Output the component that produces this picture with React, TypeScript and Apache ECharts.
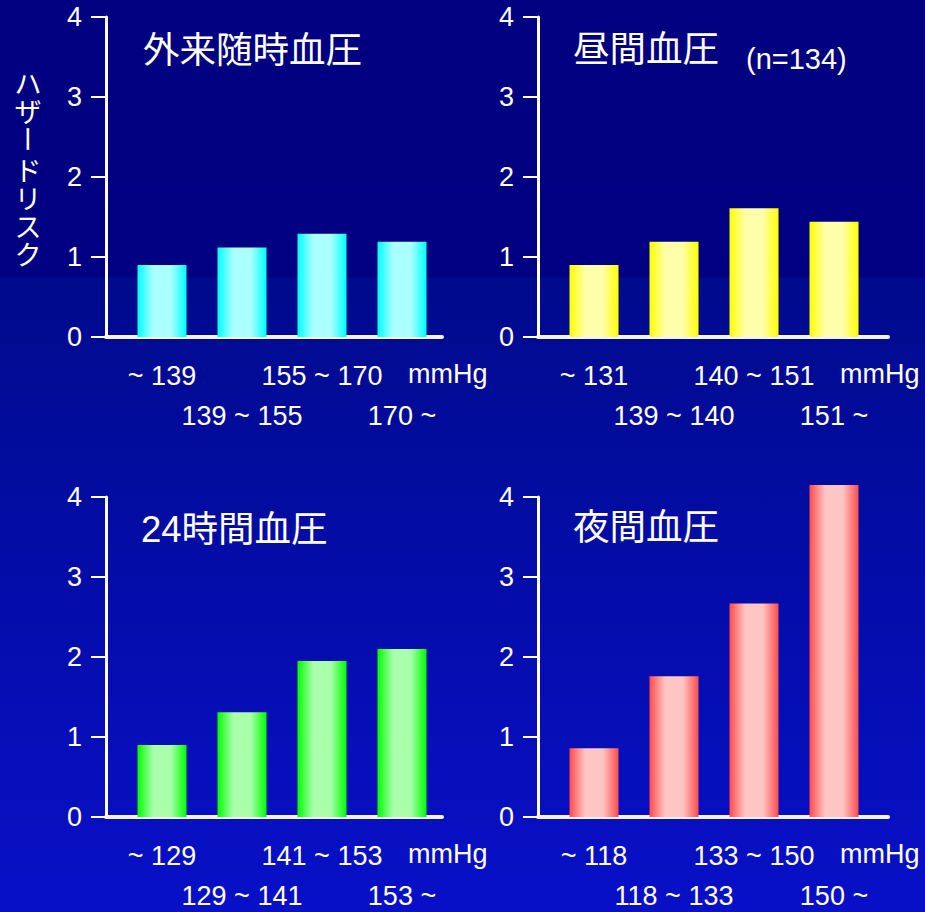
import React, { useEffect, useRef } from 'react';
import * as echarts from 'echarts';

// ---- data ----
const yTicks = [0, 1, 2, 3, 4];
const yAxisTitleTop = 'ハ\nザ';
const yAxisTitleDash = 'ー';
const yAxisTitleBottom = 'ド\nリ\nス\nク';

const clinicTitle = '外来随時血圧';
const clinicLabels = ['~ 139', '139 ~ 155', '155 ~ 170', '170 ~'];
const clinicValues = [0.9, 1.12, 1.29, 1.19];

const dayTitle = '昼間血圧';
const dayNote = '(n=134)';
const dayLabels = ['~ 131', '139 ~ 140', '140 ~ 151', '151 ~'];
const dayValues = [0.9, 1.19, 1.61, 1.44];

const allDayTitle = '24時間血圧';
const allDayLabels = ['~ 129', '129 ~ 141', '141 ~ 153', '153 ~'];
const allDayValues = [0.9, 1.31, 1.95, 2.1];

const nightTitle = '夜間血圧';
const nightLabels = ['~ 118', '118 ~ 133', '133 ~ 150', '150 ~'];
const nightValues = [0.86, 1.76, 2.67, 4.15];

const unitLabel = 'mmHg';

const LATIN = '"Liberation Sans", Arial, sans-serif';
const CJK = '"Liberation Sans", "Noto Sans CJK JP", sans-serif';

function grad(edge: string, mid: string) {
  return {
    type: 'linear', x: 0, y: 0, x2: 1, y2: 0,
    colorStops: [
      { offset: 0, color: edge },
      { offset: 0.32, color: mid },
      { offset: 0.68, color: mid },
      { offset: 1, color: edge },
    ],
  };
}

export default function App() {
  const ref = useRef<HTMLDivElement>(null);
  useEffect(() => {
    const chart = echarts.init(ref.current!, null, { renderer: 'svg' });
    const panels = [
      { left: 106, top: 17, width: 336, xMax: 3.5, labels: clinicLabels, values: clinicValues, color: grad('#00ffff', '#aaffff') },
      { left: 538, top: 17, width: 350, xMax: 3.675, labels: dayLabels, values: dayValues, color: grad('#ffff00', '#ffffaa') },
      { left: 106, top: 497, width: 336, xMax: 3.5, labels: allDayLabels, values: allDayValues, color: grad('#00ff00', '#aaffaa') },
      { left: 538, top: 497, width: 350, xMax: 3.675, labels: nightLabels, values: nightValues, color: grad('#ff4c4c', '#ffc4c4') },
    ];
    const grid = panels.map((p) => ({
      left: p.left, top: p.top, width: p.width, height: 320,
      containLabel: false, outerBoundsMode: 'none',
    }));
    const xAxis: any[] = [];
    panels.forEach((p, gi) => {
      [0, 1].forEach((row) => {
        xAxis.push({
          type: 'value',
          gridIndex: gi,
          position: 'bottom',
          offset: 0,
          min: -0.7,
          max: p.xMax,
          splitLine: { show: false },
          axisTick: { show: false },
          axisLine: { show: row === 0, onZero: false, lineStyle: { color: '#f4f4ff', width: 4 } },
          axisLabel: {
            customValues: row === 0 ? [0, 2] : [1, 3],
            formatter: (v: number) => p.labels[Math.round(v)],
            color: '#ffffff',
            fontSize: 27,
            fontFamily: LATIN,
            margin: row === 0 ? 25 : 65,
          },
        });
      });
    });
    const yAxis = panels.map((p, gi) => ({
      type: 'value',
      gridIndex: gi,
      min: yTicks[0],
      max: yTicks[yTicks.length - 1],
      interval: 1,
      splitLine: { show: false },
      axisLine: { show: true, onZero: false, lineStyle: { color: '#ffffff', width: 3 } },
      axisTick: { show: true, length: 15, lineStyle: { color: '#ffffff', width: 2 } },
      axisLabel: { color: '#ffffff', fontSize: 27, fontFamily: LATIN, margin: 24 },
    }));
    const series = panels.map((p, gi) => ({
      type: 'bar',
      xAxisIndex: gi * 2,
      yAxisIndex: gi,
      barWidth: 49,
      clip: false,
      data: p.values.map((v, i) => [i, v]),
      itemStyle: { color: p.color },
    }));

    const textEl = (text: string, x: number, y: number, fontSize: number, fontFamily = CJK) => ({
      type: 'text', x, y,
      style: { text, fill: '#ffffff', fontSize, fontFamily, align: 'left', verticalAlign: 'middle' },
    });
    const vStyle = (text: string) => ({
      text, fill: '#ffffff', fontSize: 27, lineHeight: 28,
      fontFamily: '"Noto Sans CJK JP", sans-serif', align: 'center', verticalAlign: 'middle',
    });

    const graphic: any[] = [
      textEl(clinicTitle, 143, 50, 36.5),
      textEl(dayTitle, 573, 49, 36.5),
      textEl(dayNote, 746, 59, 29, LATIN),
      textEl(allDayTitle, 141, 529, 36.5),
      textEl(nightTitle, 573, 527, 36.5),
      textEl(unitLabel, 408, 374, 27, LATIN),
      textEl(unitLabel, 840, 374, 27, LATIN),
      textEl(unitLabel, 408, 854, 27, LATIN),
      textEl(unitLabel, 840, 854, 27, LATIN),
      { type: 'text', x: 28, y: 96, style: vStyle(yAxisTitleTop) },
      { type: 'text', x: 28, y: 139, rotation: -Math.PI / 2, style: vStyle(yAxisTitleDash) },
      { type: 'text', x: 28, y: 211, style: vStyle(yAxisTitleBottom) },
    ];

    chart.setOption({
      animation: false,
      backgroundColor: {
        type: 'linear', x: 0, y: 0, x2: 0, y2: 1,
        colorStops: [
          { offset: 0, color: '#000080' },
          { offset: 0.302, color: '#000082' },
          { offset: 0.306, color: '#000a8c' },
          { offset: 1, color: '#0810c8' },
        ],
      },
      grid,
      xAxis,
      yAxis,
      series,
      graphic,
    });
    return () => chart.dispose();
  }, []);
  return <div ref={ref} style={{ position: 'absolute', left: 0, top: 0, width: 925, height: 912 }} />;
}
